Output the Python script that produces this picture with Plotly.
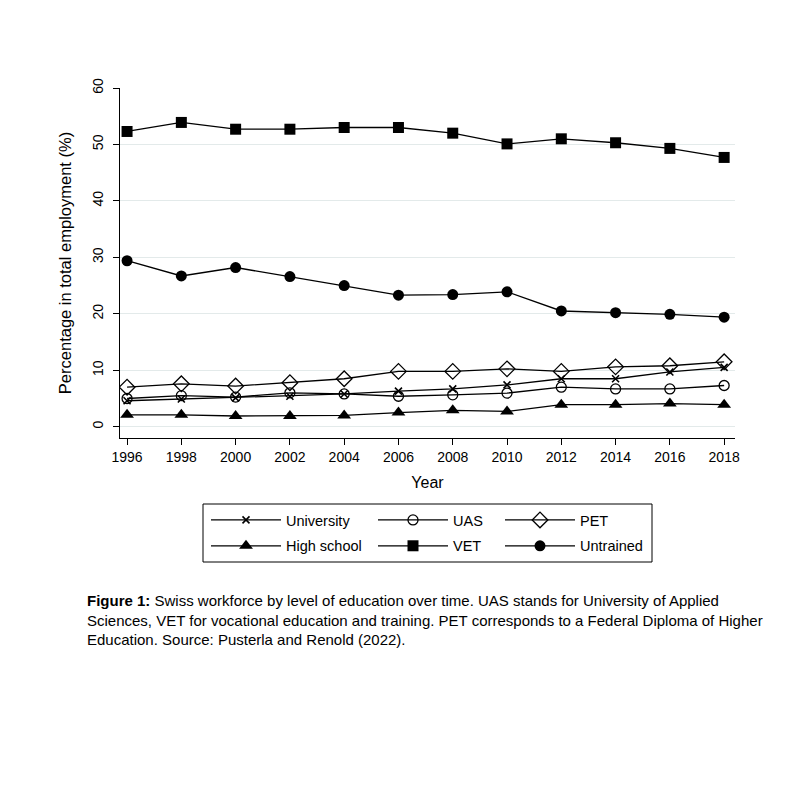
import plotly.graph_objects as go

years = [1996, 1998, 2000, 2002, 2004, 2006, 2008, 2010, 2012, 2014, 2016, 2018]
university = [4.6, 4.9, 5.1, 5.4, 5.8, 6.3, 6.7, 7.4, 8.5, 8.5, 9.7, 10.5]
uas = [5.0, 5.5, 5.25, 6.0, 5.8, 5.4, 5.65, 5.95, 7.0, 6.7, 6.7, 7.3]
pet = [7.0, 7.6, 7.2, 7.8, 8.5, 9.8, 9.8, 10.25, 9.8, 10.6, 10.8, 11.5]
high_school = [2.1, 2.1, 1.9, 1.9, 2.0, 2.5, 2.9, 2.7, 3.9, 3.9, 4.1, 3.9]
vet = [52.3, 53.9, 52.7, 52.7, 53.0, 53.0, 52.0, 50.1, 51.0, 50.3, 49.3, 47.7]
untrained = [29.4, 26.7, 28.2, 26.6, 25.0, 23.3, 23.4, 23.9, 20.5, 20.2, 19.9, 19.4]

x_ticks = [1996, 1998, 2000, 2002, 2004, 2006, 2008, 2010, 2012, 2014, 2016, 2018]
y_ticks = [0, 10, 20, 30, 40, 50, 60]

FONT = "Arial, Liberation Sans, sans-serif"

# (name, values, marker, legend column)
series = [
    ("University", university, dict(symbol="x-thin", size=7, color="black",
                                    line=dict(color="black", width=1.6)), "legend"),
    ("UAS", uas, dict(symbol="circle-open", size=10, color="black",
                      line=dict(color="black", width=1.3)), "legend2"),
    ("PET", pet, dict(symbol="diamond-open", size=12, color="black",
                      line=dict(color="black", width=1.3)), "legend3"),
    ("High school", high_school, dict(symbol="triangle-up", size=12, color="black"), "legend"),
    ("VET", vet, dict(symbol="square", size=11, color="black"), "legend2"),
    ("Untrained", untrained, dict(symbol="circle", size=11, color="black"), "legend3"),
]

fig = go.Figure()
for name, vals, mk, lg in series:
    fig.add_trace(go.Scatter(
        x=years, y=vals, name=name, mode="lines+markers",
        line=dict(color="black", width=1.3), marker=mk,
        legend=lg, legendgroup=name,
    ))

W, H = 784, 777
L, T, R, B = 112, 80, 57, 347
pw, ph = W - L - R, H - T - B


def px(xfig):
    return (xfig - L) / pw


def py(yfig):
    return (H - B - yfig) / ph


OFF = 8  # page body margin
leg_common = dict(
    orientation="v", xanchor="left", yanchor="top",
    y=py(504 - OFF), itemwidth=70, tracegroupgap=4,
    bgcolor="rgba(0,0,0,0)", borderwidth=0,
    font=dict(family=FONT, size=14.5, color="black"),
)

fig.update_layout(
    width=W, height=H,
    margin=dict(l=L, r=R, t=T, b=B, pad=0),
    paper_bgcolor="white", plot_bgcolor="white",
    font=dict(family=FONT, size=14, color="black"),
    showlegend=True,
    legend=dict(x=px(206 - OFF), **leg_common),
    legend2=dict(x=px(373 - OFF), **leg_common),
    legend3=dict(x=px(500 - OFF), **leg_common),
    shapes=[
        dict(type="rect", xref="paper", yref="paper",
             x0=px(203 - OFF), x1=px(652 - OFF), y0=py(504 - OFF), y1=py(562 - OFF),
             line=dict(color="black", width=1), fillcolor="rgba(0,0,0,0)", layer="below")
    ],
    annotations=[
        dict(
            text=("<b>Figure 1:</b> Swiss workforce by level of education over time. UAS stands for University of Applied<br>"
                  "Sciences, VET for vocational education and training. PET corresponds to a Federal Diploma of Higher<br>"
                  "Education. Source: Pusterla and Renold (2022)."),
            xref="paper", yref="paper", x=px(85 - OFF), y=py(590 - OFF),
            xanchor="left", yanchor="top", align="left", showarrow=False,
            font=dict(family=FONT, size=15, color="black"),
        )
    ],
)

fig.update_xaxes(
    range=[1995.74, 2018.4], tickvals=x_ticks, ticktext=[str(t) for t in x_ticks],
    showline=True, linecolor="black", linewidth=1, ticks="outside", ticklen=6,
    tickcolor="black", showgrid=False, zeroline=False,
    tickfont=dict(family=FONT, size=14),
    title=dict(text="Year", font=dict(family=FONT, size=16), standoff=13),
)
fig.update_yaxes(
    range=[-2.0, 60.0], tickvals=y_ticks, ticktext=[str(t) for t in y_ticks],
    tickangle=-90, ticklabelstandoff=4,
    showline=True, linecolor="black", linewidth=1, ticks="outside", ticklen=6,
    tickcolor="black", showgrid=True, gridcolor="#e3eaea", gridwidth=1, zeroline=False,
    tickfont=dict(family=FONT, size=14),
    title=dict(text="Percentage in total employment (%)", font=dict(family=FONT, size=16.5), standoff=14),
)

fig.write_html("out.html")
